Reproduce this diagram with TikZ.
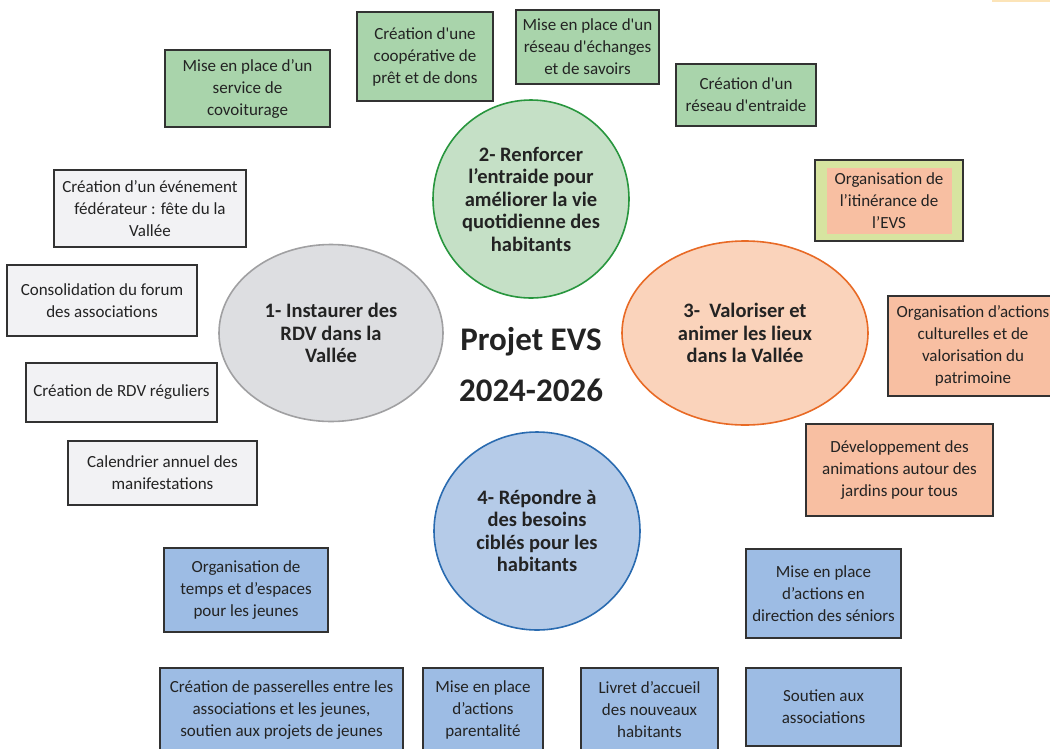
\documentclass[tikz,border=0pt]{standalone}
\usepackage{fontspec}
\setmainfont{Carlito}[Ligatures=TeXOff]
\usetikzlibrary{shapes.geometric}

\definecolor{boxline}{RGB}{50,50,50}
\definecolor{textdark}{RGB}{35,35,35}
\definecolor{boxgreen}{RGB}{169,212,171}
\definecolor{boxgrey}{RGB}{242,242,244}
\definecolor{boxsalmon}{RGB}{248,191,162}
\definecolor{boxblue}{RGB}{157,188,228}
\definecolor{itingreen}{RGB}{215,228,160}
\definecolor{circgreen}{RGB}{197,224,198}
\definecolor{circgreenline}{RGB}{40,150,62}
\definecolor{circgrey}{RGB}{221,222,225}
\definecolor{circgreyline}{RGB}{160,160,162}
\definecolor{circorange}{RGB}{250,211,187}
\definecolor{circorangeline}{RGB}{232,106,37}
\definecolor{circblue}{RGB}{181,203,232}
\definecolor{circblueline}{RGB}{42,107,176}
\definecolor{topmark}{RGB}{252,228,184}

\tikzset{
  actionbox/.style={draw=boxline, line width=1.2pt, inner sep=0pt, align=center,
    text=textdark, font=\fontsize{17}{22}\selectfont},
  greenbox/.style={actionbox, fill=boxgreen},
  greybox/.style={actionbox, fill=boxgrey},
  salmonbox/.style={actionbox, fill=boxsalmon},
  bluebox/.style={actionbox, fill=boxblue},
  axe/.style={ellipse, line width=1.6pt, inner sep=0pt, align=center,
    text=textdark, font=\bfseries\fontsize{20.5}{22.5}\selectfont},
}

\begin{document}
\begin{tikzpicture}[x=1pt,y=-1pt]
\useasboundingbox (0,0) rectangle (1050,748);
\clip (0,0) rectangle (1050,748);
\fill [topmark] (992,0) rectangle (1050,2);

% les quatre axes
\node [axe, draw=circgreyline, fill=circgrey, minimum width=224, minimum height=177] (vallee) at (331,333)
  {1- Instaurer des\\RDV dans la\\Vallée};
\node [axe, draw=circgreenline, fill=circgreen, minimum width=196, minimum height=198] (entraide) at (531,199)
  {2- Renforcer\\l’entraide pour\\améliorer la vie\\quotidienne des\\habitants};
\node [axe, draw=circorangeline, fill=circorange, minimum width=246, minimum height=184] (lieux) at (745,333)
  {3-\ \ Valoriser et\\animer les lieux\\dans la Vallée};
\node [axe, draw=circblueline, fill=circblue, minimum width=206, minimum height=198] (besoins) at (537,531)
  {4- Répondre à\\des besoins\\ciblés pour les\\habitants};

% titre
\node [align=center, text=textdark, font=\bfseries\fontsize{33}{51}\selectfont] (titre) at (531,365)
  {Projet EVS\\2024-2026};

% axe 2 : entraide
\node [greenbox, minimum width=165, minimum height=77] (covoit) at (247.5,88.5)
  {Mise en place d’un\\service de\\covoiturage};
\node [greenbox, minimum width=136, minimum height=89] (coop) at (425,56.5)
  {Création d'une\\coopérative de\\prêt et de dons};
\node [greenbox, minimum width=143, minimum height=74] (echanges) at (587.5,47)
  {Mise en place d'un\\réseau d'échanges\\et de savoirs};
\node [greenbox, minimum width=140, minimum height=62] (reseau) at (746,95)
  {Création d'un\\réseau d'entraide};

% axe 3 : lieux
\node [actionbox, fill=itingreen, minimum width=148, minimum height=81] (itin) at (889,200.5) {};
\node [salmonbox, draw=none, minimum width=125, minimum height=66] (itintexte) at (itin.center)
  {Organisation de\\l’itinérance de\\l’EVS};
\node [salmonbox, minimum width=170, minimum height=100] (culture) at (973,346)
  {Organisation d’actions\\culturelles et de\\valorisation du\\patrimoine};
\node [salmonbox, minimum width=187, minimum height=92] (jardins) at (899.5,470)
  {Développement des\\animations autour des\\jardins pour tous};

% axe 4 : besoins
\node [bluebox, minimum width=155, minimum height=89] (seniors) at (823.5,593.5)
  {Mise en place\\d’actions en\\direction des séniors};
\node [bluebox, minimum width=155, minimum height=78] (soutien) at (823.5,707)
  {Soutien aux\\associations};
\node [bluebox, minimum width=137, minimum height=84] (livret) at (649.5,710)
  {Livret d’accueil\\des nouveaux\\habitants};
\node [bluebox, minimum width=120, minimum height=84] (parent) at (483,710)
  {Mise en place\\d’actions\\parentalité};
\node [bluebox, minimum width=243, minimum height=84] (passerelles) at (281.5,710)
  {Création de passerelles entre les\\associations et les jeunes,\\soutien aux projets de jeunes};
\node [bluebox, minimum width=164, minimum height=84] (jeunes) at (246,590)
  {Organisation de\\temps et d’espaces\\pour les jeunes};

% axe 1 : vallee
\node [greybox, minimum width=189, minimum height=64] (calendrier) at (162.5,473)
  {Calendrier annuel des\\manifestations};
\node [greybox, minimum width=191, minimum height=59] (rdv) at (121.5,392.5)
  {Création de RDV réguliers};
\node [greybox, minimum width=190, minimum height=71] (forum) at (102,300.5)
  {Consolidation du forum\\des associations};
\node [greybox, minimum width=192, minimum height=77] (fete) at (150,208.5)
  {Création d’un événement\\fédérateur : fête du la\\Vallée};
\end{tikzpicture}
\end{document}
